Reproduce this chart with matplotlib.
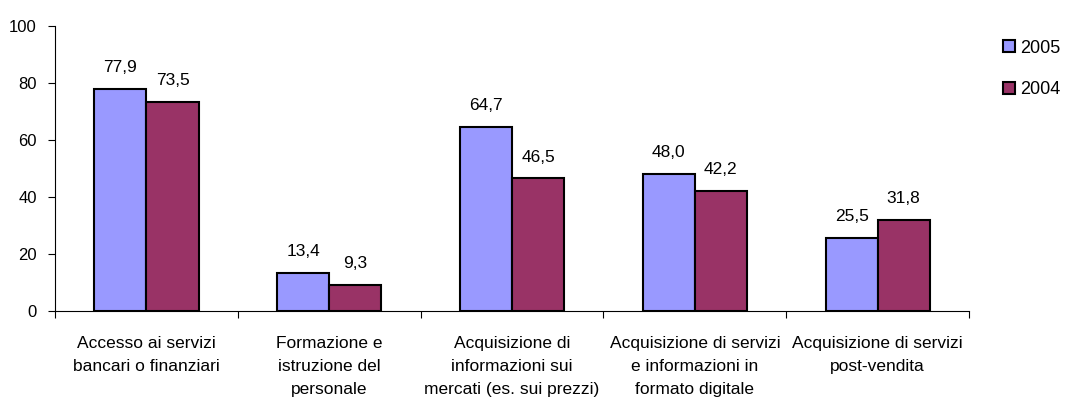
import matplotlib.pyplot as plt
import numpy as np

plt.rcParams['font.family'] = ['Liberation Sans', 'DejaVu Sans']

categories = [
    "Accesso ai servizi\nbancari o finanziari",
    "Formazione e\nistruzione del\npersonale",
    "Acquisizione di\ninformazioni sui\nmercati (es. sui prezzi)",
    "Acquisizione di servizi\ne informazioni in\nformato digitale",
    "Acquisizione di servizi\npost-vendita",
]
v2005 = [77.9, 13.4, 64.7, 48.0, 25.5]
v2004 = [73.5, 9.3, 46.5, 42.2, 31.8]

fig = plt.figure(figsize=(10.69, 4.08), dpi=100)
ax = fig.add_axes([0.0515, 0.2377, 0.855, 0.6986])

x = np.arange(len(categories))
w = 0.285
b1 = ax.bar(x - w/2, v2005, w, color="#9999FF", edgecolor="black", linewidth=1.5, label="2005")
b2 = ax.bar(x + w/2, v2004, w, color="#993366", edgecolor="black", linewidth=1.5, label="2004")

for bars, vals in ((b1, v2005), (b2, v2004)):
    for bar, v in zip(bars, vals):
        ax.annotate(f"{v:.1f}".replace(".", ","),
                    (bar.get_x() + bar.get_width()/2, v),
                    xytext=(0, 10), textcoords="offset points",
                    ha="center", va="bottom", fontsize=12.5)

ax.set_xlim(-0.5, len(categories) - 0.5)
ax.set_ylim(0, 100)
ax.set_yticks(range(0, 101, 20))
ax.set_xticks(np.arange(len(categories) + 1) - 0.5)
ax.set_xticklabels([])
ax.set_xticks(x, minor=True)
ax.set_xticklabels(categories, minor=True, linespacing=1.65)
ax.tick_params(axis="x", which="minor", length=0, pad=18, labelsize=12.5)
ax.tick_params(axis="x", which="major", length=5, direction="out")
ax.tick_params(axis="y", length=5, direction="out", labelsize=12, pad=8)

ax.spines["top"].set_visible(False)
ax.spines["right"].set_visible(False)

fig.legend(handles=[b1, b2], loc="upper left", bbox_to_anchor=(0.9385, 0.903),
           frameon=False, fontsize=13, handlelength=0.65, handleheight=0.65,
           handletextpad=0.3, labelspacing=1.35, borderpad=0, borderaxespad=0)

fig.savefig("out.png", dpi=100)
